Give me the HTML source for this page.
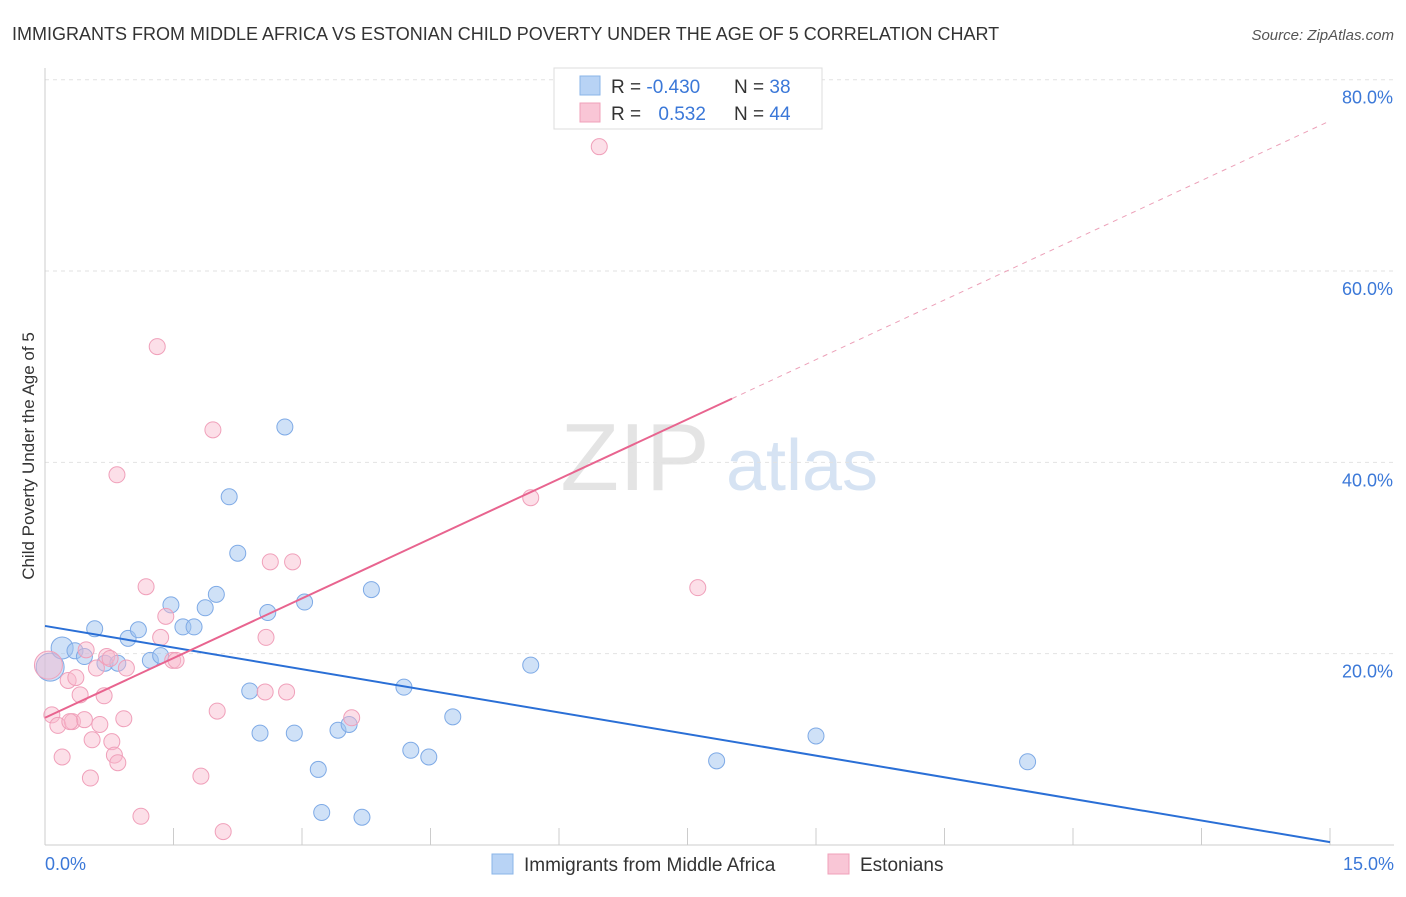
<!DOCTYPE html>
<html><head><meta charset="utf-8">
<style>
body{margin:0;background:#fff;font-family:"Liberation Sans",sans-serif;}
svg text{font-family:"Liberation Sans",sans-serif;}
</style></head>
<body>
<svg id="chart" width="1406" height="892" viewBox="0 0 1406 892" xmlns="http://www.w3.org/2000/svg">
<text x="12" y="40" font-size="18" fill="#333">IMMIGRANTS FROM MIDDLE AFRICA VS ESTONIAN CHILD POVERTY UNDER THE AGE OF 5 CORRELATION CHART</text>
<text x="1394" y="40" font-size="15" fill="#555" text-anchor="end" font-style="italic">Source: ZipAtlas.com</text>
<text transform="translate(34,456) rotate(-90)" font-size="17" fill="#333" text-anchor="middle">Child Poverty Under the Age of 5</text>
<g>
<text x="635" y="490" font-size="96" fill="#e4e4e4" text-anchor="middle" font-family="Liberation Serif,serif">ZIP</text>
<text x="802" y="490" font-size="72" fill="#d6e3f3" text-anchor="middle">atlas</text>
</g>
<g id="grid"></g>
<g id="axes"></g>
<g id="marks"></g>
<g>
<rect x="554" y="68" width="268" height="61" fill="#fff" stroke="#ddd"/>
<rect x="580" y="76" width="20" height="19" fill="#b8d3f5" stroke="#8ab4e8"/>
<rect x="580" y="103" width="20" height="19" fill="#f9c6d6" stroke="#f0a0ba"/>
<text x="611" y="93" font-size="19" fill="#333">R = <tspan fill="#3b78d8">-0.430</tspan></text>
<text x="734" y="93" font-size="19" fill="#333">N = <tspan fill="#3b78d8">38</tspan></text>
<text x="611" y="120" font-size="19" fill="#333">R = <tspan fill="#3b78d8" dx="12">0.532</tspan></text>
<text x="734" y="120" font-size="19" fill="#333">N = <tspan fill="#3b78d8">44</tspan></text>
</g>
<g>
<rect x="492" y="854" width="21" height="20" fill="#b8d3f5" stroke="#8ab4e8"/>
<text x="524" y="871" font-size="19" fill="#333">Immigrants from Middle Africa</text>
<rect x="828" y="854" width="21" height="20" fill="#f9c6d6" stroke="#f0a0ba"/>
<text x="860" y="871" font-size="19" fill="#333">Estonians</text>
</g>
</svg>
<script>
const xTicks=[0,1.5,3,4.5,6,7.5,9,10.5,12,13.5,15];
const yTicks=[20,40,60,80];
const yTickLabels=["20.0%","40.0%","60.0%","80.0%"];
const xTickLabels=["0.0%","15.0%"];
const blueX=[0.06,0.20,0.35,0.46,0.58,0.70,0.85,0.97,1.09,1.23,1.35,1.47,1.61,1.74,1.87,2.00,2.15,2.25,2.39,2.51,2.60,2.80,2.91,3.03,3.19,3.23,3.42,3.55,3.70,3.81,4.19,4.27,4.48,4.76,5.67,7.84,9.00,11.47];
const blueY=[18.6,20.6,20.3,19.7,22.6,19.0,19.0,21.6,22.5,19.3,19.8,25.1,22.8,22.8,24.8,26.2,36.4,30.5,16.1,11.7,24.3,43.7,11.7,25.4,7.9,3.4,12.0,12.6,2.9,26.7,16.5,9.9,9.2,13.4,18.8,8.8,11.4,8.7];
const blueSize=[14,11,8,8,8,8,8,8,8,8,8,8,8,8,8,8,8,8,8,8,8,8,8,8,8,8,8,8,8,8,8,8,8,8,8,8,8,8];
const pinkX=[0.04,0.08,0.15,0.20,0.27,0.32,0.36,0.41,0.46,0.48,0.53,0.55,0.60,0.64,0.69,0.72,0.78,0.81,0.85,0.92,0.95,1.12,1.18,1.31,1.35,1.41,1.49,1.53,1.82,1.96,2.01,2.08,2.57,2.58,2.63,2.82,2.89,3.58,0.84,5.67,6.47,7.62,0.29,0.76];
const pinkY=[18.8,13.6,12.5,9.2,17.2,12.9,17.5,15.7,13.1,20.4,7.0,11.0,18.5,12.6,15.6,19.7,10.8,9.4,8.6,13.2,18.5,3.0,27.0,52.1,21.7,23.9,19.3,19.3,7.2,43.4,14.0,1.4,16.0,21.7,29.6,16.0,29.6,13.3,38.7,36.3,73.0,26.9,12.9,19.5];
const pinkSize=[14,8,8,8,8,8,8,8,8,8,8,8,8,8,8,8,8,8,8,8,8,8,8,8,8,8,8,8,8,8,8,8,8,8,8,8,8,8,8,8,8,8,8,8];
const blueTrend=[22.9,0.3];
const pinkTrend=[13.3,4.16];
const pinkSolidEnd=8.02;

const X=v=>45+v/15*1285;
const Y=v=>845-v*9.566;
const NS="http://www.w3.org/2000/svg";
function mk(tag,parent,attrs){const e=document.createElementNS(NS,tag);for(const k in attrs)e.setAttribute(k,attrs[k]);parent.appendChild(e);return e;}
const grid=document.getElementById('grid'),axes=document.getElementById('axes'),marks=document.getElementById('marks');
yTicks.forEach((t,i)=>{
  const l=mk('line',grid,{x1:45,x2:1394,y1:Y(t),y2:Y(t),stroke:'#e2e2e2','stroke-dasharray':'4,4'});
  
  
  const tx=mk('text',axes,{x:1393,y:Y(t)+24,'font-size':18,fill:'#3b78d8','text-anchor':'end'});
  tx.textContent=yTickLabels[i];
  
  
});
const ax=mk('line',axes,{x1:45,x2:1394,y1:845,y2:845,stroke:'#ccc'});


const ay=mk('line',axes,{x1:45,x2:45,y1:68,y2:845,stroke:'#ccc'});


xTicks.forEach(t=>{
  const l=mk('line',axes,{x1:X(t),x2:X(t),y1:828,y2:845,stroke:'#ccc'});
  
  
});
[[0,'start',45],[15,'end',1394]].forEach((d,i)=>{
  const tx=mk('text',axes,{x:d[2],y:870,'font-size':18,fill:'#3b78d8','text-anchor':d[1]});
  tx.textContent=xTickLabels[i];
  
  
});
blueX.forEach((x,i)=>{
  const c=mk('circle',marks,{cx:X(x),cy:Y(blueY[i]),r:blueSize[i],fill:'rgba(160,196,240,0.5)',stroke:'#7eaae6','stroke-width':1});
  
  
});
pinkX.forEach((x,i)=>{
  const c=mk('circle',marks,{cx:X(x),cy:Y(pinkY[i]),r:pinkSize[i],fill:'rgba(248,184,204,0.45)',stroke:'#f0a0ba','stroke-width':1});
  
  
});
const bl=mk('line',marks,{x1:X(0),y1:Y(blueTrend[0]),x2:X(15),y2:Y(blueTrend[1]),stroke:'#2a6fd6','stroke-width':2});


const pf=v=>pinkTrend[0]+pinkTrend[1]*v;
const pl=mk('line',marks,{x1:X(0),y1:Y(pf(0)),x2:X(pinkSolidEnd),y2:Y(pf(pinkSolidEnd)),stroke:'#e8648f','stroke-width':2});


const pd=mk('line',marks,{x1:X(pinkSolidEnd),y1:Y(pf(pinkSolidEnd)),x2:X(15),y2:Y(pf(15)),stroke:'#eca0b8','stroke-width':1,'stroke-dasharray':'5,5'});


</script>
</body></html>
